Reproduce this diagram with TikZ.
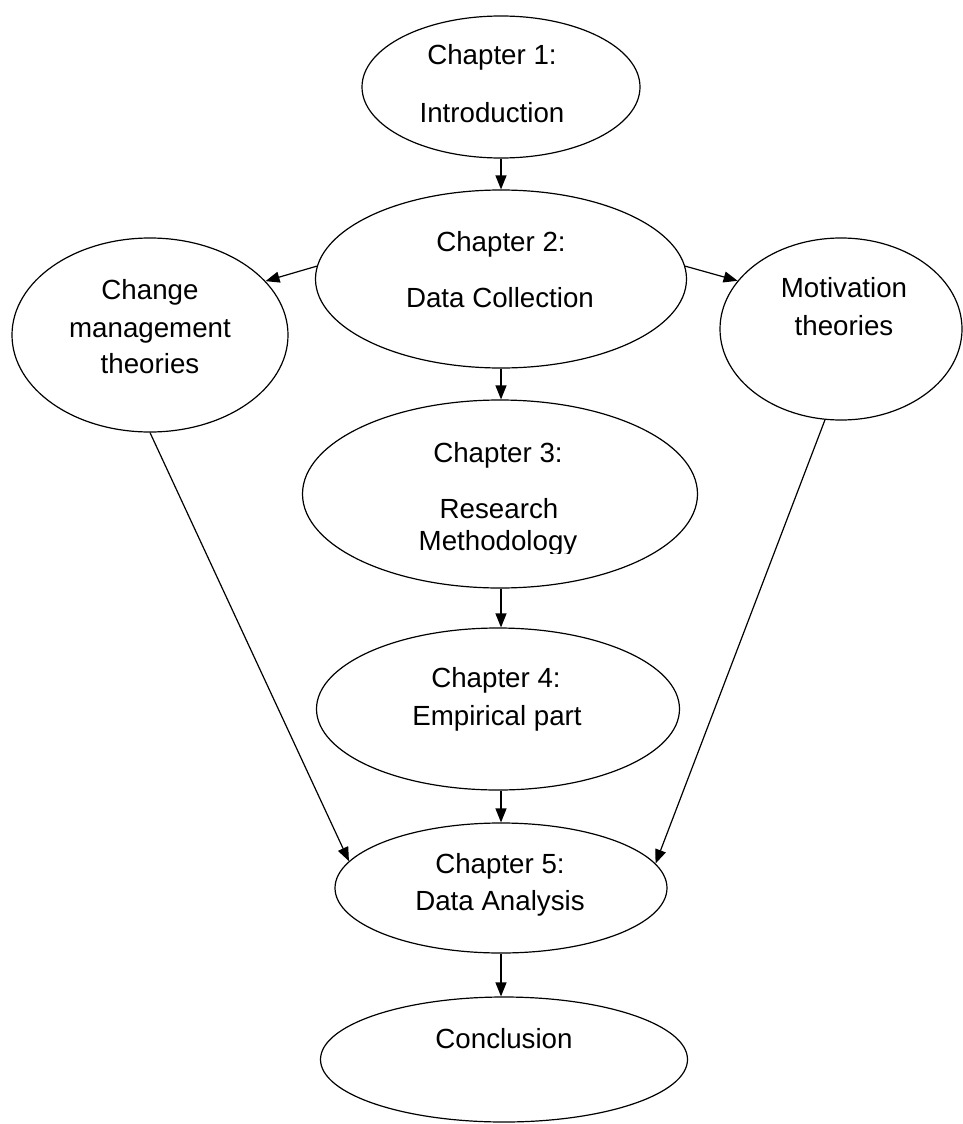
\documentclass[tikz,border=0pt]{standalone}
\usepackage{fontspec}
\setmainfont{Liberation Sans}
\usetikzlibrary{shapes.geometric,arrows.meta}
\begin{document}
\begin{tikzpicture}[x=1pt,y=-1pt,
  bubble/.style={draw=black,line width=1.2pt,ellipse,inner sep=0pt},
  lbl/.style={anchor=base,inner sep=0pt,text=black,font=\fontsize{27.7}{33}\selectfont},
  arr/.style={draw=black,line width=1.2pt,-{Triangle[length=14pt,width=11pt]}}]
\useasboundingbox (0,0) rectangle (963,1124);

% chapter bubbles
\node[bubble,minimum width=278pt,minimum height=142pt] (ch1) at (501,87) {};
\node[bubble,minimum width=371pt,minimum height=178pt] (ch2) at (501,279) {};
\node[bubble,minimum width=276pt,minimum height=194pt] (change) at (150,335) {};
\node[bubble,minimum width=242pt,minimum height=182pt] (motiv) at (841,329) {};
\node[bubble,minimum width=395pt,minimum height=188pt] (ch3) at (500,494) {};
\node[bubble,minimum width=363pt,minimum height=162pt] (ch4) at (498,709) {};
\node[bubble,minimum width=332pt,minimum height=130pt] (ch5) at (501,888) {};
\node[bubble,minimum width=367pt,minimum height=125pt] (concl) at (504,1059.5) {};

% labels
\node[lbl] (t1a) at (492,65) {Chapter 1:};
\node[lbl] (t1b) at (492,122) {Introduction};
\node[lbl] (t2a) at (501,251) {Chapter 2:};
\node[lbl] (t2b) at (500,307) {Data Collection};
\node[lbl] (tca) at (150,299) {Change};
\node[lbl] (tcb) at (150,337) {management};
\node[lbl] (tcc) at (150,373) {theories};
\node[lbl] (tma) at (844,297) {Motivation};
\node[lbl] (tmb) at (844,335) {theories};
\node[lbl] (t3a) at (498,462) {Chapter 3:};
\node[lbl] (t3b) at (499,518) {Research};
\begin{scope}
  \clip (300,520) rectangle (700,553);
  \node[lbl] (t3c) at (498,550) {Methodology};
\end{scope}
\node[lbl] (t4a) at (496,687) {Chapter 4:};
\node[lbl] (t4b) at (497,725) {Empirical part};
\node[lbl] (t5a) at (500,873) {Chapter 5:};
\node[lbl] (t5b) at (500,910) {Data Analysis};
\node[lbl] (tco) at (504,1048) {Conclusion};

% connectors: the chain runs straight down at x = 501
\draw[arr] (ch1.south) -- (ch1.south |- ch2.north);
\draw[arr] (ch2.176) -- (change.25);
\draw[arr] (ch2.4) -- (motiv.155.6);
\draw[arr] (ch2.south) -- (ch2.south |- ch3.north);
\draw[arr] (ch3.south -| ch2.south) -- (ch2.south |- ch4.north);
\draw[arr] (ch4.south -| ch2.south) -- (ch2.south |- ch5.north);
\draw[arr] (change.south) -- (ch5.170.4);
\draw[arr] (motiv.260.6) -- (ch5.9.9);
\draw[arr] (ch5.south) -- (ch5.south |- concl.north);
\end{tikzpicture}
\end{document}
